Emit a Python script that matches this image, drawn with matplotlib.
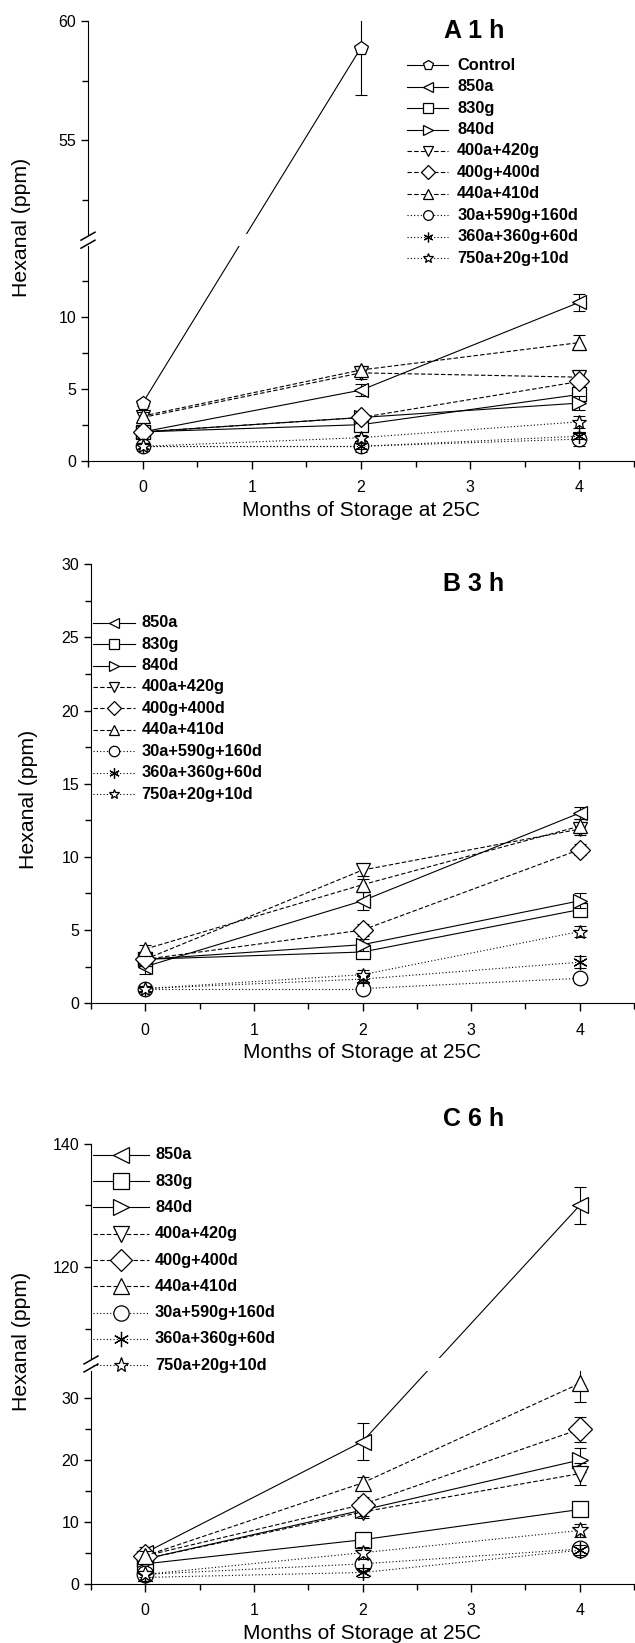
import numpy as np
import matplotlib
matplotlib.use("Agg")
import matplotlib.pyplot as plt
from matplotlib.lines import Line2D
from matplotlib.ticker import MultipleLocator

plt.rcParams['font.family'] = ['Liberation Sans', 'DejaVu Sans']

# ---- data ----
months = [0, 2, 4]

names = ["Control", "850a", "830g", "840d", "400a+420g", "400g+400d",
         "440a+410d", "30a+590g+160d", "360a+360g+60d", "750a+20g+10d"]
markers = ["p", "<", "s", ">", "v", "D", "^", "o", (6, 2, 0), "*"]
styles = ["-", "-", "-", "-", (0, (4, 2)), (0, (4, 2)), (0, (4, 2)),
          (0, (1, 2)), (0, (1, 2)), (0, (1, 2))]

# A 1 h
a_control = [4.0, 58.9]
a_control_err = [0.2, 2.0]
a_850a = [2.0, 4.9, 11.0]
a_830g = [2.0, 2.5, 4.6]
a_840d = [2.0, 3.0, 4.0]
a_400a420g = [3.0, 6.1, 5.8]
a_400g400d = [2.0, 3.0, 5.5]
a_440a410d = [3.1, 6.3, 8.2]
a_30a590g160d = [1.0, 1.0, 1.5]
a_360a360g60d = [1.0, 1.0, 1.7]
a_750a20g10d = [1.0, 1.6, 2.7]
a_err = [[0.3, 0.4, 0.6], [0.3, 0.3, 0.4], [0.3, 0.3, 0.5], [0.3, 0.4, 0.4],
         [0.3, 0.3, 0.3], [0.3, 0.3, 0.5], [0.3, 0.4, 0.5], [0.2, 0.2, 0.2],
         [0.2, 0.2, 0.4], [0.2, 0.3, 0.4]]

# B 3 h
b_850a = [2.5, 7.0, 13.0]
b_830g = [3.0, 3.5, 6.4]
b_840d = [3.0, 4.0, 7.0]
b_400a420g = [3.0, 9.1, 11.9]
b_400g400d = [3.0, 5.0, 10.5]
b_440a410d = [3.7, 8.1, 12.1]
b_30a590g160d = [1.0, 1.0, 1.7]
b_360a360g60d = [1.0, 1.65, 2.8]
b_750a20g10d = [1.0, 1.95, 4.9]
b_err = [[0.5, 0.6, 0.4], [0.3, 0.4, 0.4], [0.3, 0.4, 0.5], [0.3, 0.4, 0.4],
         [0.3, 0.4, 0.4], [0.3, 0.4, 0.5], [0.2, 0.2, 0.3], [0.2, 0.3, 0.4],
         [0.2, 0.3, 0.4]]

# C 6 h
c_850a = [5.0, 23.0, 130.0]
c_830g = [3.2, 7.1, 12.0]
c_840d = [4.0, 11.9, 20.0]
c_400a420g = [4.0, 11.6, 17.8]
c_400g400d = [4.5, 12.8, 25.0]
c_440a410d = [4.5, 16.3, 32.4]
c_30a590g160d = [1.5, 3.2, 5.6]
c_360a360g60d = [1.0, 1.8, 5.4]
c_750a20g10d = [1.5, 5.0, 8.6]
c_err = [[1.0, 3.0, 3.0], [0.8, 1.0, 0.5], [0.8, 1.0, 2.0], [0.8, 1.0, 1.8],
         [0.8, 1.2, 2.0], [0.8, 1.0, 3.0], [0.5, 1.0, 0.8], [0.5, 0.8, 0.8],
         [0.5, 1.0, 1.0]]

W, H = 635, 1643
fig = plt.figure(figsize=(W / 100, H / 100), dpi=100)


def add_ax(left, top, bottom, right=634):
    return fig.add_axes([left / W, 1 - bottom / H, (right - left) / W, (bottom - top) / H])


def style_ax(ax, bottom_axis=True):
    ax.set_xlim(-0.5, 4.5)
    ax.spines['top'].set_visible(False)
    ax.spines['right'].set_visible(False)
    ax.patch.set_alpha(0)
    ax.tick_params(axis='y', which='major', direction='out', length=5, width=1, labelsize=11.5)
    ax.tick_params(axis='y', which='minor', direction='out', length=4, width=1)
    if bottom_axis:
        ax.xaxis.set_major_locator(MultipleLocator(1))
        ax.xaxis.set_minor_locator(MultipleLocator(0.5))
        ax.tick_params(axis='x', which='major', direction='out', length=6, width=1, labelsize=11.5, pad=8)
        ax.tick_params(axis='x', which='minor', direction='out', length=4, width=1)
        ax.set_xlabel("Months of Storage at 25C", fontsize=15, labelpad=4)
    else:
        ax.spines['bottom'].set_visible(False)
        ax.set_xticks([])


def break_marks(ax_lo, ax_hi):
    # "//" on the y axis between the two parts
    x = ax_lo.get_position().x0 * W
    yc = ((1 - ax_lo.get_position().y1) * H + (1 - ax_hi.get_position().y0) * H) / 2
    for dy in (-4, 4):
        fig.add_artist(Line2D([(x - 7) / W, (x + 7) / W],
                              [1 - (yc + dy + 4) / H, 1 - (yc + dy - 4) / H],
                              transform=fig.transFigure, color='black', lw=1.1))


def draw_series(ax_lo, ax_hi, x, y, err, marker, ls, ms, split):
    pts_ax = [ax_lo if (ax_hi is None or v <= split) else ax_hi for v in y]
    for i in range(len(x) - 1):
        a0, a1 = pts_ax[i], pts_ax[i + 1]
        if a0 is a1:
            a0.plot(x[i:i + 2], y[i:i + 2], color='black', lw=0.8, ls=ls)
        else:
            # straight line on screen, clipped by both parts of the axis
            for ax in (a0, a1):
                p0 = a0.transData.transform((x[i], y[i]))
                p1 = a1.transData.transform((x[i + 1], y[i + 1]))
                q = ax.transData.inverted().transform([p0, p1])
                ax.plot(q[:, 0], q[:, 1], color='black', lw=0.8, ls=ls)
    for xi, yi, ei, ax in zip(x, y, err, pts_ax):
        ax.errorbar([xi], [yi], yerr=[ei], fmt='none', ecolor='black',
                    elinewidth=0.8, capsize=4, capthick=0.8)
        ax.plot([xi], [yi], ls='none', marker=marker, ms=ms, mfc='white',
                mec='black', mew=0.9)


def draw_legend(ax, idx, x0, x1, xt, y0, dy, ms):
    # x positions in data units of ax, y positions in figure pixels
    px = lambda v: ax.transData.transform((v, 0))[0] / W
    for r, i in enumerate(idx):
        yy = 1 - (y0 + r * dy) / H
        fig.add_artist(Line2D([px(x0), px(x1)], [yy, yy], transform=fig.transFigure,
                              color='black', lw=0.8, ls=styles[i]))
        fig.add_artist(Line2D([px((x0 + x1) / 2)], [yy], transform=fig.transFigure,
                              ls='none', marker=markers[i], ms=ms, mfc='white',
                              mec='black', mew=0.9))
        fig.text(px(xt), yy, names[i], ha='left', va='center', fontsize=11.8,
                 fontweight='bold')


# ---- panel A ----
axA_hi = add_ax(88, 21.4, 234)
axA_lo = add_ax(88, 246.4, 460.7)
style_ax(axA_hi, bottom_axis=False)
style_ax(axA_lo)
axA_hi.set_ylim(51.07, 60)
axA_lo.set_ylim(0, 14.88)
for ax in (axA_hi, axA_lo):
    ax.yaxis.set_major_locator(MultipleLocator(5))
    ax.yaxis.set_minor_locator(MultipleLocator(2.5))
break_marks(axA_lo, axA_hi)

a_series = [a_850a, a_830g, a_840d, a_400a420g, a_400g400d, a_440a410d,
            a_30a590g160d, a_360a360g60d, a_750a20g10d]
draw_series(axA_lo, axA_hi, months[:2], a_control, a_control_err, markers[0], styles[0], 10.5, 15)
for k, s in enumerate(a_series):
    draw_series(axA_lo, axA_hi, months, s, a_err[k], markers[k + 1], styles[k + 1], 10.5, 15)
axA_hi.text(3.04, 59.58, "A 1 h", ha='center', va='center', fontsize=18, fontweight='bold')
fig.text(22 / W, 1 - 227 / H, "Hexanal (ppm)", rotation=90, ha='center', va='center', fontsize=15.3)
draw_legend(axA_hi, range(10), 2.42, 2.80, 2.88, 65.4, 21.4, 7)

# ---- panel B ----
axB = add_ax(91, 564.3, 1003.2)
style_ax(axB)
axB.set_ylim(0, 30)
axB.yaxis.set_major_locator(MultipleLocator(5))
axB.yaxis.set_minor_locator(MultipleLocator(2.5))
b_series = [b_850a, b_830g, b_840d, b_400a420g, b_400g400d, b_440a410d,
            b_30a590g160d, b_360a360g60d, b_750a20g10d]
for k, s in enumerate(b_series):
    draw_series(axB, None, months, s, b_err[k], markers[k + 1], styles[k + 1], 10.5, 1e9)
axB.text(3.02, 28.65, "B 3 h", ha='center', va='center', fontsize=18, fontweight='bold')
fig.text(28 / W, 1 - 799 / H, "Hexanal (ppm)", rotation=90, ha='center', va='center', fontsize=15.3)
draw_legend(axB, range(1, 10), -0.485, -0.093, -0.037, 622.8, 21.4, 7.5)

# ---- panel C ----
axC_hi = add_ax(91, 1143.7, 1357.5)
axC_lo = add_ax(91, 1370.5, 1583.6)
style_ax(axC_hi, bottom_axis=False)
style_ax(axC_lo)
axC_hi.set_ylim(105.35, 140)
axC_lo.set_ylim(0, 34.5)
axC_hi.yaxis.set_major_locator(MultipleLocator(20))
axC_hi.yaxis.set_minor_locator(MultipleLocator(10))
axC_lo.yaxis.set_major_locator(MultipleLocator(10))
axC_lo.yaxis.set_minor_locator(MultipleLocator(5))
break_marks(axC_lo, axC_hi)
c_series = [c_850a, c_830g, c_840d, c_400a420g, c_400g400d, c_440a410d,
            c_30a590g160d, c_360a360g60d, c_750a20g10d]
for k, s in enumerate(c_series):
    draw_series(axC_lo, axC_hi, months, s, c_err[k], markers[k + 1], styles[k + 1], 12, 34.5)
fig.text(axC_hi.transData.transform((3.02, 0))[0] / W, 1 - 1119 / H, "C 6 h",
         ha='center', va='center', fontsize=18, fontweight='bold')
fig.text(22 / W, 1 - 1341 / H, "Hexanal (ppm)", rotation=90, ha='center', va='center', fontsize=15.3)
draw_legend(axC_hi, range(1, 10), -0.478, 0.03, 0.09, 1154.8, 26.3, 11)

fig.savefig("out.png", dpi=100)
